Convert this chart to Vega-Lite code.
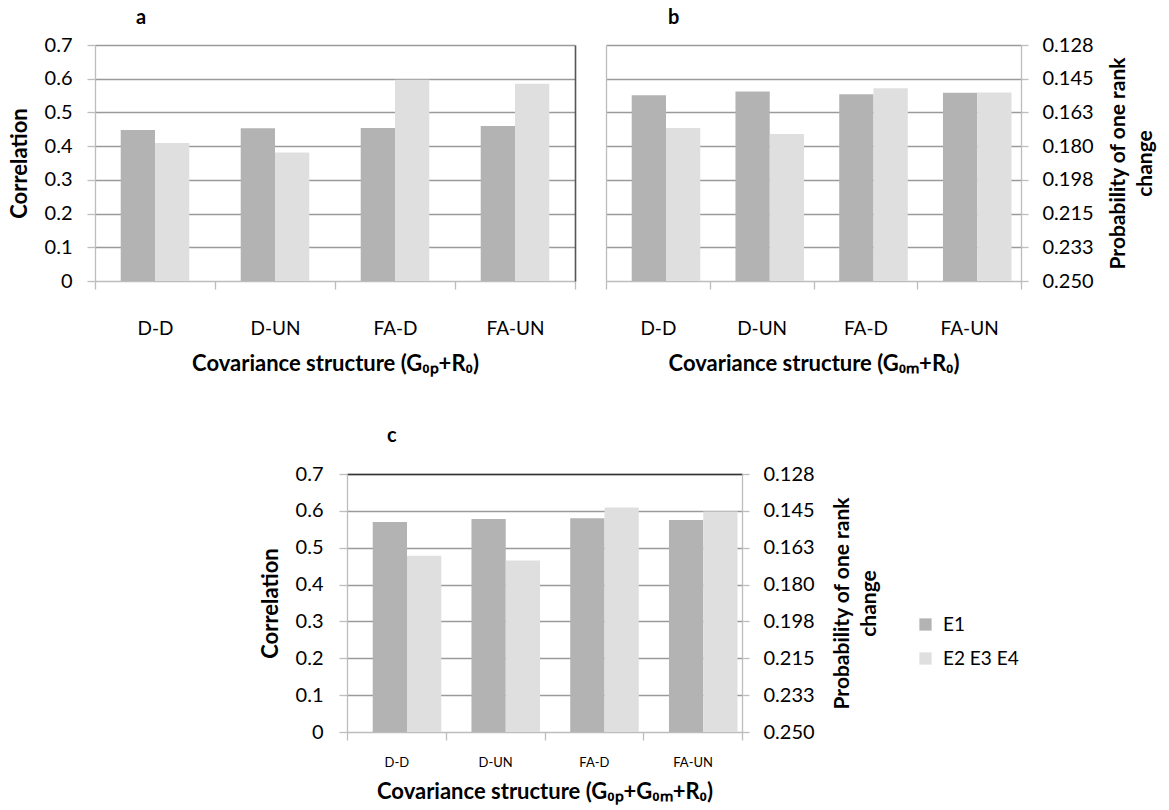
{
  "$schema": "https://vega.github.io/schema/vega-lite/v6.json",
  "padding": {"left": 8, "top": 8, "right": 5, "bottom": 5},
  "datasets": {
    "d": [
      {"panel": "a", "structure": "D-D", "group": "E1", "corr": 0.448},
      {"panel": "a", "structure": "D-D", "group": "E2 E3 E4", "corr": 0.409},
      {"panel": "a", "structure": "D-UN", "group": "E1", "corr": 0.453},
      {"panel": "a", "structure": "D-UN", "group": "E2 E3 E4", "corr": 0.381},
      {"panel": "a", "structure": "FA-D", "group": "E1", "corr": 0.454},
      {"panel": "a", "structure": "FA-D", "group": "E2 E3 E4", "corr": 0.597},
      {"panel": "a", "structure": "FA-UN", "group": "E1", "corr": 0.46},
      {"panel": "a", "structure": "FA-UN", "group": "E2 E3 E4", "corr": 0.585},
      {"panel": "b", "structure": "D-D", "group": "E1", "corr": 0.551},
      {"panel": "b", "structure": "D-D", "group": "E2 E3 E4", "corr": 0.454},
      {"panel": "b", "structure": "D-UN", "group": "E1", "corr": 0.562},
      {"panel": "b", "structure": "D-UN", "group": "E2 E3 E4", "corr": 0.436},
      {"panel": "b", "structure": "FA-D", "group": "E1", "corr": 0.554},
      {"panel": "b", "structure": "FA-D", "group": "E2 E3 E4", "corr": 0.572},
      {"panel": "b", "structure": "FA-UN", "group": "E1", "corr": 0.558},
      {"panel": "b", "structure": "FA-UN", "group": "E2 E3 E4", "corr": 0.559},
      {"panel": "c", "structure": "D-D", "group": "E1", "corr": 0.57},
      {"panel": "c", "structure": "D-D", "group": "E2 E3 E4", "corr": 0.478},
      {"panel": "c", "structure": "D-UN", "group": "E1", "corr": 0.578},
      {"panel": "c", "structure": "D-UN", "group": "E2 E3 E4", "corr": 0.465},
      {"panel": "c", "structure": "FA-D", "group": "E1", "corr": 0.58},
      {"panel": "c", "structure": "FA-D", "group": "E2 E3 E4", "corr": 0.609},
      {"panel": "c", "structure": "FA-UN", "group": "E1", "corr": 0.575},
      {"panel": "c", "structure": "FA-UN", "group": "E2 E3 E4", "corr": 0.598}
    ]
  },
  "bounds": "flush",
  "spacing": 429,
  "resolve": {"scale": {"color": "independent"}},
  "vconcat": [
    {
      "bounds": "flush",
      "spacing": 31,
      "resolve": {"scale": {"color": "independent"}},
      "hconcat": [
        {
          "width": 480,
          "height": 236,
          "data": {"name": "d"},
          "transform": [{"filter": "datum.panel === 'a'"}],
          "title": {"text": "a", "anchor": "start", "frame": "group", "dx": 41, "offset": -9, "baseline": "alphabetic", "fontSize": 20, "fontWeight": "bold", "font": "Lato", "color": "#000"},
          "resolve": {"axis": {"y": "independent", "x": "independent"}},
          "layer": [
            {
              "transform": [{"filter": "datum.group === 'E1'"}],
              "mark": "bar",
              "encoding": {
                "x": {"field": "structure", "type": "nominal", "sort": ["D-D", "D-UN", "FA-D", "FA-UN"], "scale": {"paddingInner": 0, "paddingOuter": 0},
                  "axis": {"title": "Covariance structure (G₀ₚ+R₀)", "titleFontSize": 22, "titleFontWeight": "bold", "labelFontSize": 19, "labelAngle": 0, "tickBand": "extent", "tickSize": 8, "labelPadding": 30, "titlePadding": 15, "grid": false}},
                "xOffset": {"field": "group", "type": "nominal", "scale": {"domain": ["E1", "E2 E3 E4"], "paddingInner": 0, "paddingOuter": 0.75}},
                "y": {"field": "corr", "type": "quantitative", "scale": {"domain": [0, 0.7], "nice": false},
                  "axis": {"title": "Correlation", "titleFontSize": 22, "titleFontWeight": "bold", "labelFontSize": 20, "values": [0, 0.1, 0.2, 0.3, 0.4, 0.5, 0.6, 0.7], "format": "~g", "tickSize": 8, "labelPadding": 15, "titlePadding": 13, "grid": true,
                    "gridColor": {"condition": {"test": "datum.value === 0", "value": "transparent"}, "value": "#9a9a9a"}}},
                "color": {"field": "group", "type": "nominal", "scale": {"domain": ["E1", "E2 E3 E4"], "range": ["#b3b3b3", "#dfdfdf"]}, "legend": null}
              }
            },
            {
              "transform": [{"filter": "datum.group !== 'E1'"}],
              "mark": "bar",
              "encoding": {
                "x": {"field": "structure", "type": "nominal", "sort": ["D-D", "D-UN", "FA-D", "FA-UN"], "scale": {"paddingInner": 0, "paddingOuter": 0}, "axis": null},
                "xOffset": {"field": "group", "type": "nominal", "scale": {"domain": ["E1", "E2 E3 E4"], "paddingInner": 0, "paddingOuter": 0.75}},
                "y": {"field": "corr", "type": "quantitative", "scale": {"domain": [0, 0.7], "nice": false},
                  "axis": {"orient": "right", "labels": false, "ticks": false, "title": null, "grid": false, "domainColor": "#555555", "domainWidth": 1.6}},
                "color": {"field": "group", "type": "nominal", "scale": {"domain": ["E1", "E2 E3 E4"], "range": ["#b3b3b3", "#dfdfdf"]}, "legend": null}
              }
            }
          ]
        },
        {
          "width": 415,
          "height": 236,
          "data": {"name": "d"},
          "transform": [{"filter": "datum.panel === 'b'"}],
          "title": {"text": "b", "anchor": "start", "frame": "group", "dx": 62, "offset": -9, "baseline": "alphabetic", "fontSize": 20, "fontWeight": "bold", "font": "Lato", "color": "#000"},
          "resolve": {"axis": {"y": "independent", "x": "independent"}},
          "layer": [
            {
              "transform": [{"filter": "datum.group === 'E1'"}],
              "mark": "bar",
              "encoding": {
                "x": {"field": "structure", "type": "nominal", "sort": ["D-D", "D-UN", "FA-D", "FA-UN"], "scale": {"paddingInner": 0, "paddingOuter": 0},
                  "axis": {"title": "Covariance structure (G₀ₘ+R₀)", "titleFontSize": 22, "titleFontWeight": "bold", "labelFontSize": 19, "labelAngle": 0, "tickBand": "extent", "tickSize": 8, "labelPadding": 30, "titlePadding": 15, "grid": false}},
                "xOffset": {"field": "group", "type": "nominal", "scale": {"domain": ["E1", "E2 E3 E4"], "paddingInner": 0, "paddingOuter": 0.75}},
                "y": {"field": "corr", "type": "quantitative", "scale": {"domain": [0, 0.7], "nice": false},
                  "axis": {"orient": "left", "labels": false, "ticks": false, "title": null, "values": [0, 0.1, 0.2, 0.3, 0.4, 0.5, 0.6, 0.7], "grid": true,
                    "gridColor": {"condition": {"test": "datum.value === 0", "value": "transparent"}, "value": "#9a9a9a"}}},
                "color": {"field": "group", "type": "nominal", "scale": {"domain": ["E1", "E2 E3 E4"], "range": ["#b3b3b3", "#dfdfdf"]}, "legend": null}
              }
            },
            {
              "transform": [{"filter": "datum.group !== 'E1'"}],
              "mark": "bar",
              "encoding": {
                "x": {"field": "structure", "type": "nominal", "sort": ["D-D", "D-UN", "FA-D", "FA-UN"], "scale": {"paddingInner": 0, "paddingOuter": 0}, "axis": null},
                "xOffset": {"field": "group", "type": "nominal", "scale": {"domain": ["E1", "E2 E3 E4"], "paddingInner": 0, "paddingOuter": 0.75}},
                "y": {"field": "corr", "type": "quantitative", "scale": {"domain": [0, 0.7], "nice": false},
                  "axis": {"orient": "right", "values": [0, 0.1, 0.2, 0.3, 0.4, 0.5, 0.6, 0.7], "labelExpr": "format(0.25 - datum.value * 0.122 / 0.7, '.3f')", "labelFontSize": 20, "tickSize": 7, "labelPadding": 14, "grid": false,
                    "title": ["Probability of one rank", "change"], "titleFontSize": 21, "titleFontWeight": "bold", "titleAngle": 270, "titleBaseline": "top", "titleLineHeight": 27, "titlePadding": -13}},
                "color": {"field": "group", "type": "nominal", "scale": {"domain": ["E1", "E2 E3 E4"], "range": ["#b3b3b3", "#dfdfdf"]}, "legend": null}
              }
            }
          ]
        }
      ]
    },
    {
      "bounds": "flush",
      "spacing": 0,
      "resolve": {"scale": {"color": "independent"}},
      "hconcat": [
        {"width": 252, "height": 258, "data": {"values": []}, "mark": "point"},
        {
          "width": 395,
          "height": 258,
          "data": {"name": "d"},
          "transform": [{"filter": "datum.panel === 'c'"}],
          "title": {"text": "c", "anchor": "start", "frame": "group", "dx": 40, "offset": 2, "baseline": "alphabetic", "fontSize": 20, "fontWeight": "bold", "font": "Lato", "color": "#000"},
          "resolve": {"axis": {"y": "independent", "x": "independent"}},
          "layer": [
            {
              "transform": [{"filter": "datum.group === 'E1'"}],
              "mark": "bar",
              "encoding": {
                "x": {"field": "structure", "type": "nominal", "sort": ["D-D", "D-UN", "FA-D", "FA-UN"], "scale": {"paddingInner": 0, "paddingOuter": 0},
                  "axis": {"title": "Covariance structure (G₀ₚ+G₀ₘ+R₀)", "titleFontSize": 22, "titleFontWeight": "bold", "labelFontSize": 13, "labelAngle": 0, "tickBand": "extent", "tickSize": 8, "labelPadding": 16, "titlePadding": 12, "grid": false}},
                "xOffset": {"field": "group", "type": "nominal", "scale": {"domain": ["E1", "E2 E3 E4"], "paddingInner": 0, "paddingOuter": 0.75}},
                "y": {"field": "corr", "type": "quantitative", "scale": {"domain": [0, 0.7], "nice": false},
                  "axis": {"title": "Correlation", "titleFontSize": 22, "titleFontWeight": "bold", "labelFontSize": 20, "values": [0, 0.1, 0.2, 0.3, 0.4, 0.5, 0.6, 0.7], "format": "~g", "tickSize": 8, "labelPadding": 16, "titlePadding": 13, "grid": true,
                    "gridColor": {"condition": {"test": "datum.value === 0", "value": "transparent"}, "value": "#9a9a9a"}}},
                "color": {"field": "group", "type": "nominal", "scale": {"domain": ["E1", "E2 E3 E4"], "range": ["#b3b3b3", "#dfdfdf"]},
                  "legend": {"orient": "none", "legendX": 569, "legendY": 141, "title": null, "symbolType": "square", "symbolSize": 150, "symbolStrokeWidth": 0, "labelFontSize": 19, "labelFont": "Lato", "labelColor": "#000", "rowPadding": 14, "labelOffset": 8, "padding": 0}}
              }
            },
            {
              "transform": [{"filter": "datum.group !== 'E1'"}],
              "mark": "bar",
              "encoding": {
                "x": {"field": "structure", "type": "nominal", "sort": ["D-D", "D-UN", "FA-D", "FA-UN"], "scale": {"paddingInner": 0, "paddingOuter": 0},
                  "axis": {"orient": "top", "labels": false, "ticks": false, "title": null, "grid": false, "domainColor": "#333333", "domainWidth": 1.6}},
                "xOffset": {"field": "group", "type": "nominal", "scale": {"domain": ["E1", "E2 E3 E4"], "paddingInner": 0, "paddingOuter": 0.75}},
                "y": {"field": "corr", "type": "quantitative", "scale": {"domain": [0, 0.7], "nice": false},
                  "axis": {"orient": "right", "values": [0, 0.1, 0.2, 0.3, 0.4, 0.5, 0.6, 0.7], "labelExpr": "format(0.25 - datum.value * 0.122 / 0.7, '.3f')", "labelFontSize": 20, "tickSize": 7, "labelPadding": 14, "grid": false,
                    "title": ["Probability of one rank", "change"], "titleFontSize": 21, "titleFontWeight": "bold", "titleAngle": 270, "titleBaseline": "top", "titleLineHeight": 27, "titlePadding": -10}},
                "color": {"field": "group", "type": "nominal", "scale": {"domain": ["E1", "E2 E3 E4"], "range": ["#b3b3b3", "#dfdfdf"]},
                  "legend": {"orient": "none", "legendX": 569, "legendY": 141, "title": null, "symbolType": "square", "symbolSize": 150, "symbolStrokeWidth": 0, "labelFontSize": 19, "labelFont": "Lato", "labelColor": "#000", "rowPadding": 14, "labelOffset": 8, "padding": 0}}
              }
            }
          ]
        }
      ]
    }
  ],
  "config": {
    "font": "Lato",
    "view": {"stroke": null},
    "axis": {"labelFont": "Lato", "titleFont": "Lato", "labelColor": "#000000", "titleColor": "#000000", "domainColor": "#bdbdbd", "tickColor": "#bdbdbd", "domainWidth": 1.3, "tickWidth": 1.3, "gridColor": "#9a9a9a", "gridWidth": 1.3},
    "bar": {"strokeWidth": 0}
  }
}
